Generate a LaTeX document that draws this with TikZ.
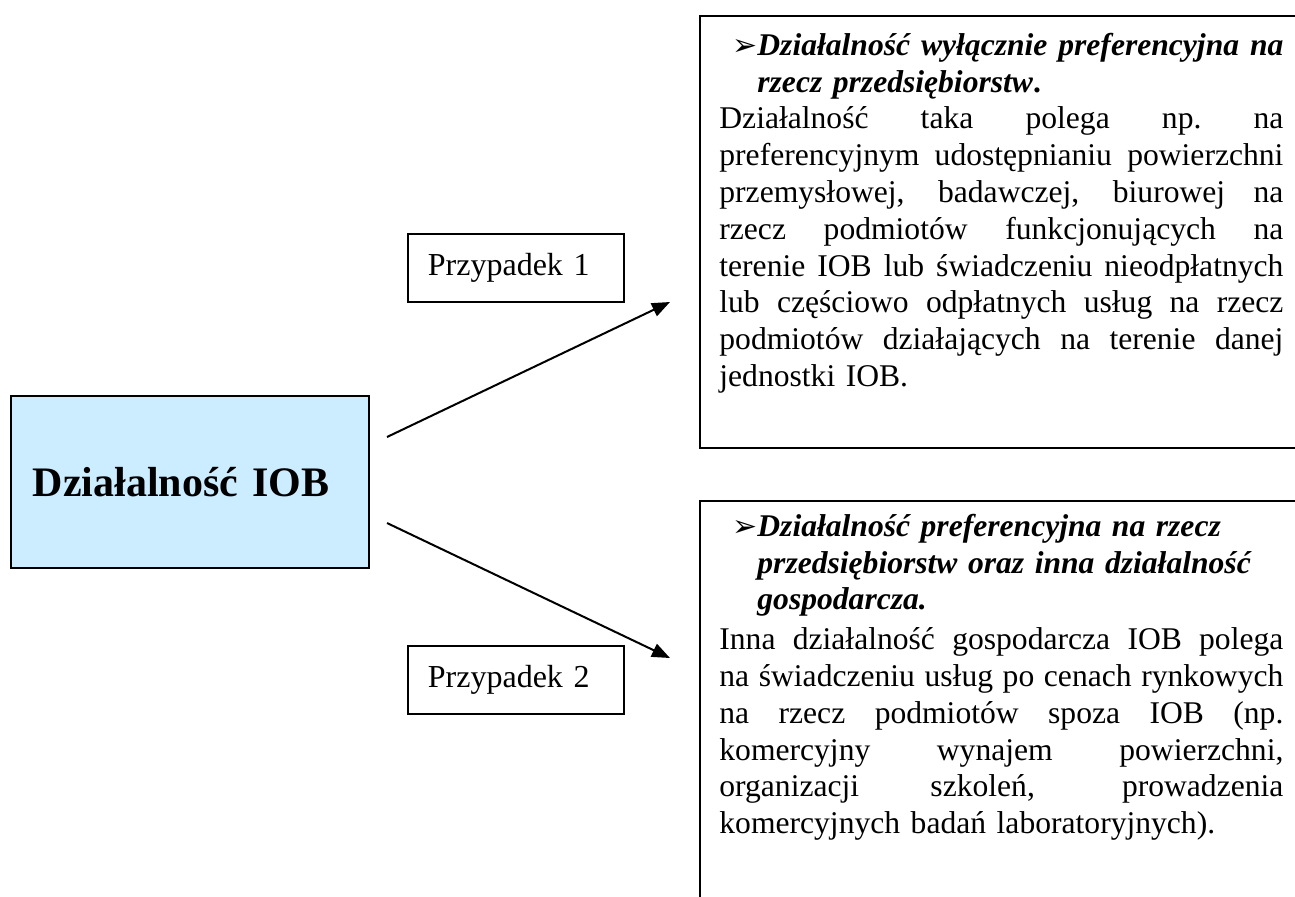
\documentclass[tikz,border=0pt]{standalone}
\usepackage{fontspec}
\setmainfont{Liberation Serif}
\newfontfamily\dingfont{DejaVu Sans}
\usetikzlibrary{arrows.meta}

\definecolor{iobblue}{RGB}{204,236,255}

\tikzset{
  panel/.style={draw, line width=1pt, anchor=north west, inner sep=0pt, minimum width=350pt},
  casebox/.style={draw, line width=0.9pt, anchor=north west, minimum width=108pt, minimum height=34pt,
    text width=88pt, inner xsep=10pt, inner ysep=0pt, align=left, font=\fontsize{16}{18.4}\selectfont},
  paneltext/.style={anchor=north west, inner sep=0pt, text width=282pt, font=\fontsize{15.8}{18.4}\selectfont},
  link/.style={line width=1pt, -{Triangle[length=9pt,width=7pt]}}
}

% one line of a panel: justified, ragged, heading with bullet, heading continued
\newcommand{\jline}[1]{\par\noindent\hbox to 282pt{\spaceskip=.25em plus 1.5em minus .12em
  \xspaceskip=\spaceskip #1}}
\newcommand{\rline}[1]{\par\noindent\hbox to 282pt{#1\hfil}}
\newcommand{\hbullet}{\hskip6.5pt\makebox[12.5pt][l]{\dingfont\fontsize{15}{15}\selectfont ➢}}
\newcommand{\hcont}{\hskip19pt}

\begin{document}
\begin{tikzpicture}[x=0.5pt, y=-0.5pt]
  \clip (0,0) rectangle (1295,896);

  % Draw boxes
  \node[draw, line width=0.8pt, fill=iobblue, anchor=north west, minimum width=179pt, minimum height=86pt,
    text width=157pt, inner xsep=11pt, align=left, font=\bfseries\fontsize{21}{24}\selectfont]
    (IOB) at (10,395) {Działalność IOB};
  \node[casebox] (P1) at (407,233) {Przypadek 1};
  \node[casebox] (P2) at (407,645) {Przypadek 2};
  \node[panel, minimum height=216pt] (K1) at (699,15) {};
  \node[panel, minimum height=250pt] (K2) at (699,500) {};

  % Texts in the panels
  \node[paneltext] (T1) at (719,18) {%
    \jline{\hbullet\textbf{\textit{Działalność wyłącznie preferencyjna na}}}
    \rline{\hcont\textbf{\textit{rzecz przedsiębiorstw}.}}
    \jline{Działalność taka polega np. na}
    \jline{preferencyjnym udostępnianiu powierzchni}
    \jline{przemysłowej, badawczej, biurowej na}
    \jline{rzecz podmiotów funkcjonujących na}
    \jline{terenie IOB lub świadczeniu nieodpłatnych}
    \jline{lub częściowo odpłatnych usług na rzecz}
    \jline{podmiotów działających na terenie danej}
    \rline{jednostki IOB.}};
  \node[paneltext] (T2) at (719,499) {%
    \rline{\hbullet\textbf{\textit{Działalność preferencyjna na rzecz}}}
    \rline{\hcont\textbf{\textit{przedsiębiorstw oraz inna działalność}}}
    \rline{\hcont\textbf{\textit{gospodarcza.}}}
    \par\vskip1.5pt
    \jline{Inna działalność gospodarcza IOB polega}
    \jline{na świadczeniu usług po cenach rynkowych}
    \jline{na rzecz podmiotów spoza IOB (np.}
    \jline{komercyjny wynajem powierzchni,}
    \jline{organizacji szkoleń, prowadzenia}
    \rline{komercyjnych badań laboratoryjnych).}};

  % Draw arrows
  \coordinate (s1) at (387,437);
  \coordinate (e1) at (670,302);
  \coordinate (s2) at (387,523);
  \coordinate (e2) at (670,658);
  \draw[link] (s1) -- (e1);
  \draw[link] (s2) -- (e2);
\end{tikzpicture}
\end{document}
